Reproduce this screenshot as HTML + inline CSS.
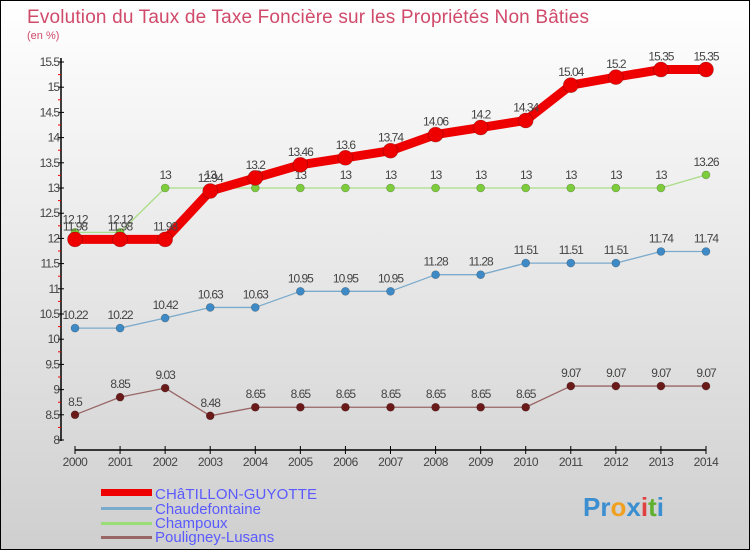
<!DOCTYPE html>
<html><head><meta charset="utf-8"><style>
body{margin:0;width:750px;height:550px;overflow:hidden;font-family:"Liberation Sans",sans-serif}
#wrap{position:absolute;left:0;top:0;width:748px;height:548px;border:1px solid #000;background:linear-gradient(#ffffff,#cfcfcf)}
</style></head><body>
<div id="wrap"></div>
<svg id="c" width="750" height="550" style="position:absolute;left:0;top:0">
<text x="27" y="23" font-size="19" fill="#d04a6a" textLength="562">Evolution du Taux de Taxe Foncière sur les Propriétés Non Bâties</text>
<text x="27" y="39" font-size="11" fill="#d04a6a">(en %)</text>
<g id="axes"></g><g id="series"></g>
<g>
<rect x="101" y="489" width="51" height="7" fill="#ee0000"/>
<text x="155" y="499" font-size="15" fill="#5a5aff" textLength="162">CHâTILLON-GUYOTTE</text>
<rect x="101" y="507" width="51" height="3" fill="#7aaacc"/>
<text x="155" y="514" font-size="15" fill="#5a5aff">Chaudefontaine</text>
<rect x="101" y="522" width="51" height="3" fill="#99dd77"/>
<text x="155" y="528" font-size="15" fill="#5a5aff">Champoux</text>
<rect x="101" y="536" width="51" height="3" fill="#996666"/>
<text x="155" y="542" font-size="15" fill="#5a5aff">Pouligney-Lusans</text>
</g>
<text x="583" y="516" font-size="26" font-weight="bold"><tspan fill="#3b8fd0">Pr</tspan><tspan fill="#f0a020">o</tspan><tspan fill="#3b8fd0">x</tspan><tspan fill="#e04040">i</tspan><tspan fill="#60b030">t</tspan><tspan fill="#3b8fd0">i</tspan></text>
</svg>
<script>
const years=[2000,2001,2002,2003,2004,2005,2006,2007,2008,2009,2010,2011,2012,2013,2014];
const yTicks=[8,8.5,9,9.5,10,10.5,11,11.5,12,12.5,13,13.5,14,14.5,15,15.5];
const yTickLabels=["8","8.5","9","9.5","10","10.5","11","11.5","12","12.5","13","13.5","14","14.5","15","15.5"];
const chatillon=[11.98,11.98,11.98,12.94,13.2,13.46,13.6,13.74,14.06,14.2,14.34,15.04,15.2,15.35,15.35];
const chaudefontaine=[10.22,10.22,10.42,10.63,10.63,10.95,10.95,10.95,11.28,11.28,11.51,11.51,11.51,11.74,11.74];
const champoux=[12.12,12.12,13,13,13,13,13,13,13,13,13,13,13,13,13.26];
const pouligney=[8.5,8.85,9.03,8.48,8.65,8.65,8.65,8.65,8.65,8.65,8.65,9.07,9.07,9.07,9.07];
const NS="http://www.w3.org/2000/svg";
const X=i=>75+i*(631/14);
const Y=v=>440-(v-8)*50.4;
function mk(t,a,p){const e=document.createElementNS(NS,t);for(const k in a)e.setAttribute(k,a[k]);p.appendChild(e);return e;}
const ax=document.getElementById('axes'),sg=document.getElementById('series');
let e=mk('line',{x1:61,y1:58,x2:61,y2:441,stroke:'#000','stroke-width':1.5},ax);

yTicks.forEach((v,i)=>{
 mk('line',{x1:58,y1:Y(v),x2:64,y2:Y(v),stroke:'#000'},ax);
 if(i<yTicks.length-1)mk('line',{x1:58,y1:Y(v+0.25),x2:61,y2:Y(v+0.25),stroke:'#e00'},ax);
 const t=mk('text',{x:59,y:Y(v)+4,'font-size':12,fill:'#444','text-anchor':'end','letter-spacing':'-1'},ax);
 t.textContent=yTickLabels[i];
 
});
e=mk('line',{x1:X(0),y1:450,x2:X(14),y2:450,stroke:'#000','stroke-width':1.5},ax);

years.forEach((y,i)=>{
 mk('line',{x1:X(i),y1:446,x2:X(i),y2:454,stroke:'#000'},ax);
 const t=mk('text',{x:X(i),y:466,'font-size':12,fill:'#444','text-anchor':'middle','letter-spacing':'-0.5'},ax);
 t.textContent=y;
 
});
function series(vals,name,col,w,r,dot){
 const g=mk('g',{},sg);
 
 mk('polyline',{points:vals.map((v,i)=>X(i)+','+Y(v)).join(' '),fill:'none',stroke:col,'stroke-width':w,'stroke-linejoin':'round'},g);
 vals.forEach((v,i)=>{
  const c=mk('circle',{cx:X(i),cy:Y(v),r:r,fill:dot,stroke:'rgba(0,0,0,0.3)','stroke-width':0.6},g);
  
  const t=mk('text',{x:X(i),y:Y(v)-9,'font-size':12,fill:'#444','text-anchor':'middle','letter-spacing':'-1'},g);
  t.textContent=String(v);
  
 });
}
series(pouligney,'pouligney','#996666',1.3,4,'#6b1a1a');
series(chaudefontaine,'chaudefontaine','#7aaacc',1.3,4,'#3d8ac6');
series(champoux,'champoux','#aadd88',1.3,4,'#7ccc3c');
series(chatillon,'chatillon','#ee0000',9,7.5,'#ee0000');
</script>
</body></html>
